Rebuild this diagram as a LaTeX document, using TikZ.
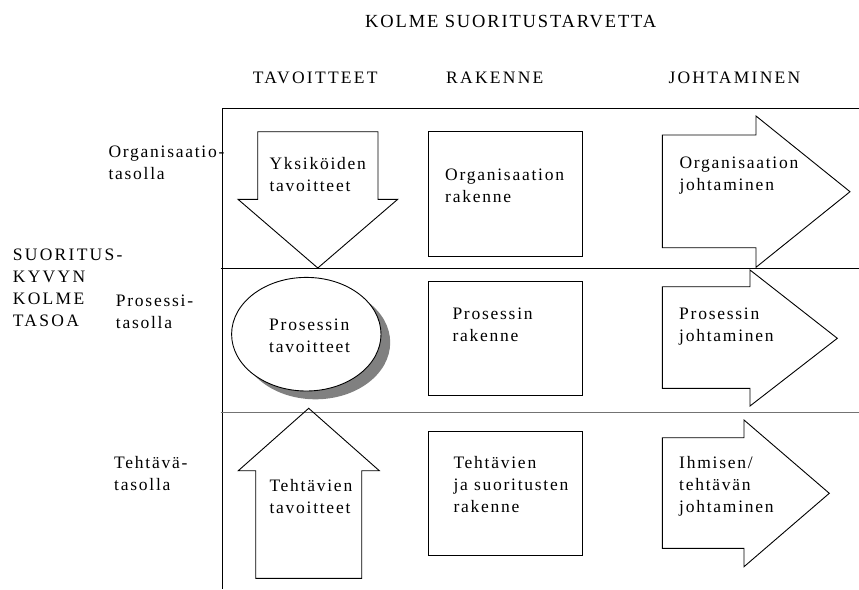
\documentclass[tikz,border=0pt]{standalone}
\usepackage{fontspec}
\setmainfont{Liberation Serif}
\newfontfamily\lowerface[LetterSpace=10]{Liberation Serif}
\newfontfamily\capface[LetterSpace=13]{Liberation Serif}
\newfontfamily\titleface[LetterSpace=10]{Liberation Serif}
% stacked lines whose reference point is the first baseline
\newcommand\txtstack[1]{\vtop{\baselineskip=22pt\lineskiplimit=-10pt\halign{##\hfil\cr#1\crcr}}}

\tikzset{
  rule/.style={draw=black, line width=1pt},
  softrule/.style={draw=black!55, line width=1.2pt},
  figure/.style={draw=black, line width=0.9pt, line join=miter},
  lbl/.style={anchor=base west, inner sep=0pt, font=\lowerface\fontsize{17.5}{22}\selectfont},
  caplbl/.style={anchor=base west, inner sep=0pt, font=\capface\fontsize{17.5}{22}\selectfont},
  titlelbl/.style={anchor=base west, inner sep=0pt, font=\titleface\fontsize{18.5}{22}\selectfont},
}

\begin{document}
\begin{tikzpicture}[x=1pt,y=-1pt]
\fill[white] (0,0) rectangle (859,589);
\useasboundingbox (0,0) rectangle (859,589);

% headings
\node[titlelbl] (title) at (365,27.3) {KOLME SUORITUSTARVETTA};
\node[caplbl] (hgoals) at (252.7,83.3) {TAVOITTEET};
\node[caplbl] (hstruct) at (446,83.3) {RAKENNE};
\node[caplbl] (hlead) at (668.3,83.3) {JOHTAMINEN};

% row labels
\node[caplbl] (levels) at (12.7,260) {\txtstack{SUORITUS-\cr KYVYN\cr KOLME\cr TASOA}};
\node[lbl] (rorg) at (108.3,157.7) {\txtstack{Organisaatio-\cr tasolla}};
\node[lbl] (rproc) at (115.7,306) {\txtstack{Prosessi-\cr tasolla}};
\node[lbl] (rtask) at (114,468.3) {\txtstack{Tehtävä-\cr tasolla}};

% frame and row dividers
\draw[rule] (222.5,108.3) -- (859,108.3);
\draw[rule] (222.5,108.3) -- (222.5,589);
\draw[rule] (220.7,268.3) -- (859,268.3);
\draw[softrule] (220.7,412.7) -- (859,412.7);

% organisation level
\draw[figure] (257.7,131.7) -- (378,131.7) -- (378,199.3) -- (397.7,199.3)
  -- (317.8,268) -- (238,199.3) -- (257.7,199.3) -- cycle;
\node[lbl] (orggoals) at (269.3,169) {\txtstack{Yksiköiden\cr tavoitteet}};
\draw[figure] (428.3,131.7) rectangle (582.7,256);
\node[lbl] (orgstruct) at (445,180) {\txtstack{Organisaation\cr rakenne}};
\draw[figure] (662.3,135) -- (756,135) -- (756,116) -- (850,191.7)
  -- (756,267.3) -- (756,247.7) -- (662.3,247.7) -- cycle;
\node[lbl] (orglead) at (679.3,168) {\txtstack{Organisaation\cr johtaminen}};

% process level
\fill[black!50] (315.5,342.5) ellipse [x radius=74.7, y radius=56.8];
\draw[figure, fill=white] (306.3,334.2) ellipse [x radius=74.7, y radius=56.8];
\node[lbl] (procgoals) at (269,330) {\txtstack{Prosessin\cr tavoitteet}};
\draw[figure] (428.3,281) rectangle (582.7,395);
\node[lbl] (procstruct) at (452.3,319.3) {\txtstack{Prosessin\cr rakenne}};
\draw[figure] (662.3,286.7) -- (750,286.7) -- (750,270) -- (837.3,338.3)
  -- (750,406) -- (750,388.3) -- (662.3,388.3) -- cycle;
\node[lbl] (proclead) at (679,319.3) {\txtstack{Prosessin\cr johtaminen}};

% task level
\draw[figure] (255.7,578.3) -- (255.7,470.7) -- (238.3,470.7) -- (308.7,408.3)
  -- (379.3,470.7) -- (361.7,470.7) -- (361.7,578.3) -- cycle;
\node[lbl] (taskgoals) at (269.3,491.7) {\txtstack{Tehtävien\cr tavoitteet}};
\draw[figure] (428.3,431) rectangle (582.7,555.7);
\node[lbl] (taskstruct) at (453.3,468.3) {\txtstack{Tehtävien\cr ja suoritusten\cr rakenne}};
\draw[figure] (662.3,437.7) -- (744,437.7) -- (744,420) -- (829.3,493.3)
  -- (744,566.7) -- (744,548.3) -- (662.3,548.3) -- cycle;
\node[lbl] (tasklead) at (679,468.3) {\txtstack{Ihmisen/\cr tehtävän\cr johtaminen}};
\end{tikzpicture}
\end{document}
